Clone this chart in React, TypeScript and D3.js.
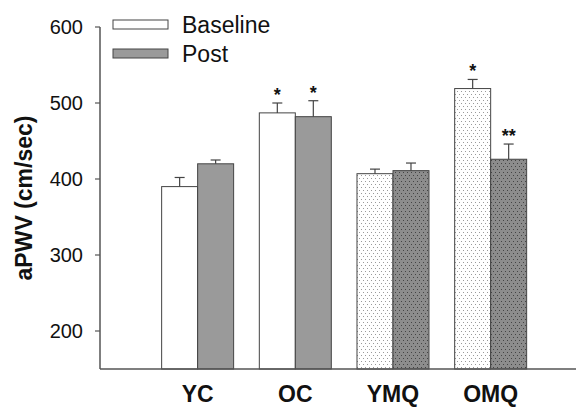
import React from 'react'
import { scaleBand, scaleLinear } from 'd3'

const groups = ['YC', 'OC', 'YMQ', 'OMQ']
const series = ['Baseline', 'Post']
const baseline = [390, 487, 407, 519]
const baselineErr = [12, 13, 6, 12]
const post = [420, 482, 411, 426]
const postErr = [5, 21, 10, 20]
const baselineSig = ['', '*', '', '*']
const postSig = ['', '*', '', '**']
const yTicks = [200, 300, 400, 500, 600]
const patterned = ['YMQ', 'OMQ']

const W = 576
const H = 407
const font = '"Liberation Sans", Arial, Helvetica, sans-serif'

const App = () => {
  const y = scaleLinear().domain([150, 600]).range([369, 27])
  const x = scaleBand<string>()
    .domain(groups)
    .range([148.8, 539.5])
    .paddingInner(0.263)
    .paddingOuter(0.1315)
  const xs = scaleBand<string>().domain(series).range([0, x.bandwidth()])

  const rows = groups.flatMap((g, i) => [
    { g, s: 'Baseline', v: baseline[i], e: baselineErr[i], sig: baselineSig[i] },
    { g, s: 'Post', v: post[i], e: postErr[i], sig: postSig[i] },
  ])

  const fillFor = (g: string, s: string) => {
    if (patterned.includes(g)) return s === 'Baseline' ? 'url(#dotLight)' : 'url(#dotDark)'
    return s === 'Baseline' ? '#ffffff' : '#9a9a9a'
  }

  return (
    <svg width={W} height={H} style={{ display: 'block', position: 'absolute', left: 0, top: 0 }}>
      <defs>
        <pattern id="dotLight" width="4" height="6" patternUnits="userSpaceOnUse">
          <rect width="4" height="6" fill="#ffffff" />
          <rect x="1" y="1" width="1" height="1" fill="#9a9a9a" />
          <rect x="3" y="4" width="1" height="1" fill="#9a9a9a" />
        </pattern>
        <pattern id="dotDark" width="4" height="6" patternUnits="userSpaceOnUse">
          <rect width="4" height="6" fill="#8c8c8c" />
          <rect x="1" y="1" width="1" height="1" fill="#444" />
          <rect x="3" y="4" width="1" height="1" fill="#444" />
        </pattern>
      </defs>
      <rect width={W} height={H} fill="#fff" />

      {/* bars */}
      {rows.map((d) => {
        const bx = (x(d.g) ?? 0) + (xs(d.s) ?? 0)
        const bw = xs.bandwidth()
        const cx = bx + bw / 2
        return (
          <g key={d.g + d.s}>
            <rect
              x={bx}
              y={y(d.v)}
              width={bw}
              height={y(150) - y(d.v)}
              fill={fillFor(d.g, d.s)}
              stroke="#444"
              strokeWidth={1}
            />
            <line x1={cx} x2={cx} y1={y(d.v)} y2={y(d.v + d.e)} stroke="#444" strokeWidth={1.2} />
            <line x1={cx - 5} x2={cx + 5} y1={y(d.v + d.e)} y2={y(d.v + d.e)} stroke="#444" strokeWidth={1.2} />
            {d.sig && (
              <text
                x={cx}
                y={y(d.v + d.e) - 2}
                textAnchor="middle"
                fontFamily={font}
                fontWeight="bold"
                fontSize={18}
                fill="#111"
              >
                {d.sig}
              </text>
            )}
          </g>
        )
      })}

      {/* axes */}
      <line x1={100} x2={100} y1={y(600)} y2={y(150)} stroke="#555" strokeWidth={1.5} />
      <line x1={100} x2={W} y1={y(150)} y2={y(150)} stroke="#555" strokeWidth={1.5} />
      {yTicks.map((t) => (
        <g key={t}>
          <line x1={95} x2={100} y1={y(t)} y2={y(t)} stroke="#555" strokeWidth={1.2} />
          <text
            x={83}
            y={y(t)}
            dy="0.36em"
            textAnchor="end"
            fontFamily={font}
            fontSize={20}
            fill="#111"
          >
            {t}
          </text>
        </g>
      ))}
      {groups.map((g) => (
        <text
          key={g}
          x={(x(g) ?? 0) + x.bandwidth() / 2}
          y={402}
          textAnchor="middle"
          fontFamily={font}
          fontWeight="bold"
          fontSize={23}
          fill="#111"
        >
          {g}
        </text>
      ))}
      <text
        transform={`translate(32, 198) rotate(-90)`}
        textAnchor="middle"
        fontFamily={font}
        fontWeight="bold"
        fontSize={23}
        fill="#111"
      >
        aPWV (cm/sec)
      </text>

      {/* legend */}
      {series.map((s, i) => (
        <g key={s} transform={`translate(113, ${20 + i * 29})`}>
          <rect width={55} height={9} fill={s === 'Baseline' ? '#fff' : '#9a9a9a'} stroke="#444" strokeWidth={1} />
          <text x={69} y={12.5} fontFamily={font} fontSize={23} fill="#111">
            {s}
          </text>
        </g>
      ))}
    </svg>
  )
}

export default App
